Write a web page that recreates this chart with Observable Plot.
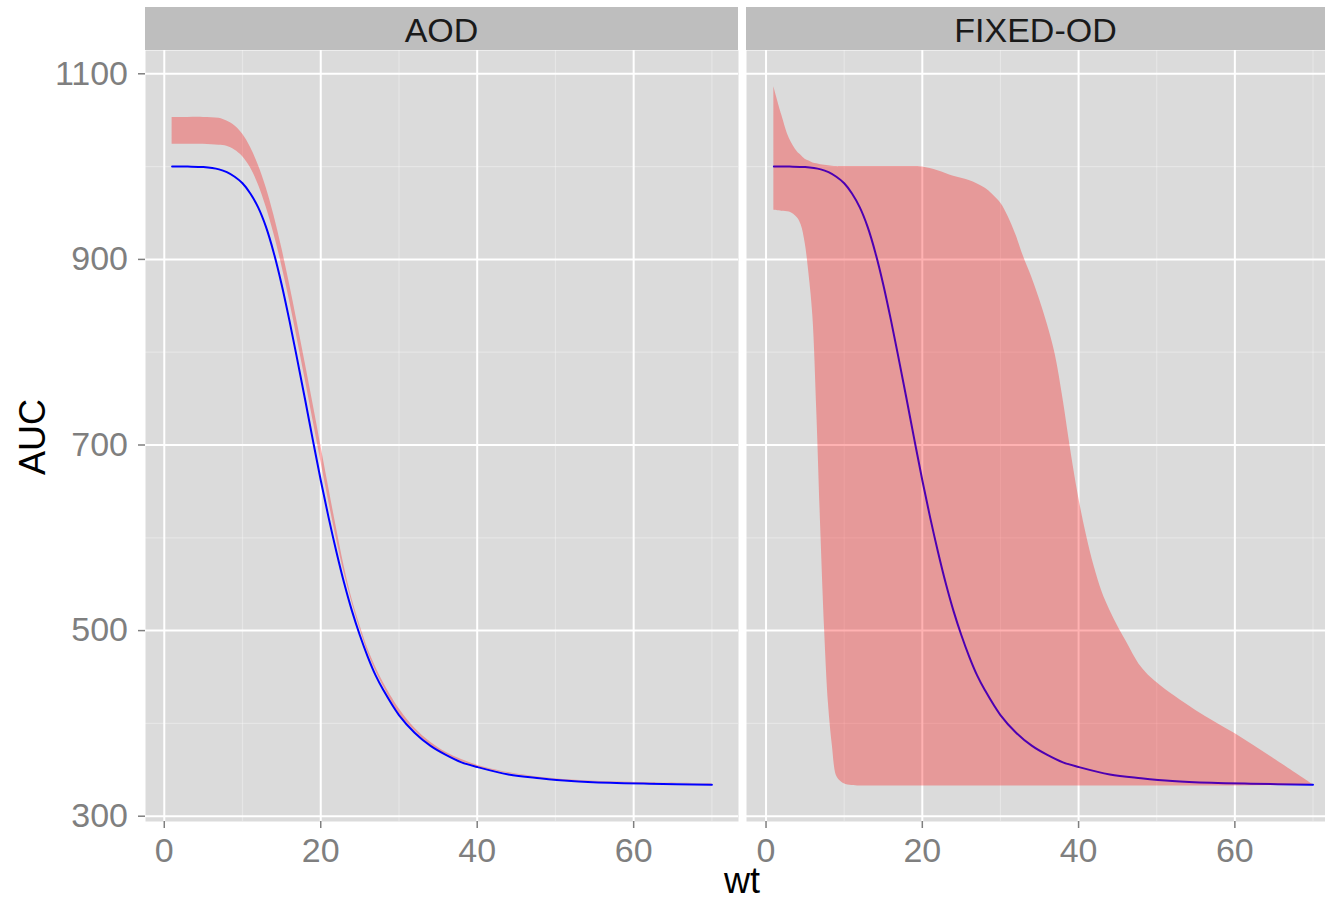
<!DOCTYPE html>
<html>
<head>
<meta charset="utf-8">
<script src="https://cdn.jsdelivr.net/npm/d3@7"></script>
<script src="https://cdn.jsdelivr.net/npm/@observablehq/plot@0.6"></script>
<style>
  body { margin: 0; background: #fff; }
  #wrap { position: relative; width: 1325px; height: 900px; overflow: hidden;
          font-family: "Liberation Sans", Arial, Helvetica, sans-serif; background: #fff; }
  .strip { position: absolute; top: 7px; height: 43px; background: #bebebe; color: #1a1a1a;
           font-size: 34px; line-height: 43px; text-align: center; white-space: nowrap; overflow: hidden; }
  .strip span { position: relative; top: 2px; }
  #ylab { position: absolute; left: 33px; top: 437px; font-size: 36px; line-height: 36px; color: #000;
          transform: translate(-50%, -50%) rotate(-90deg); white-space: nowrap; }
  #xlab { position: absolute; left: 742px; top: 863px; font-size: 36px; line-height: 36px; color: #000;
          transform: translateX(-50%); white-space: nowrap; }
</style>
</head>
<body>
<div id="wrap"></div>
<script>
// ---------- data ----------
const facets = ["AOD", "FIXED-OD"];
const xLabel = "wt";
const yLabel = "AUC";
const xTicks = [0, 20, 40, 60];
const xMinor = [10, 30, 50, 70];
const yTicks = [300, 500, 700, 900, 1100];
const yMinor = [400, 600, 800, 1000];

// typical (predicted) AUC curve, same in both panels
const predWt  = [1, 3, 5, 7, 8, 9, 10, 11, 12, 13, 14, 15, 16, 17, 18, 19, 20, 21, 22, 23, 24, 25, 26, 27, 28, 30, 32, 34, 36, 38, 40, 44, 48, 52, 57, 62, 70];
const predAuc = [1000, 1000, 999.5, 997, 994, 989, 982, 971, 956, 935, 907, 873, 834, 792, 749, 705, 662, 622, 585, 551, 521, 495, 472, 452, 436, 409, 390, 376, 366, 358, 353, 345, 341, 338, 336, 335, 334];

// AOD ribbon (same wt grid as prediction)
const aodLower = [1024, 1024, 1024, 1023, 1022, 1018, 1011, 999, 981, 957, 928, 894, 856, 814, 771, 727, 683, 640, 599, 562, 530, 502, 477, 457, 440, 411, 392, 377, 367, 359, 353.5, 346, 341.5, 338.5, 336.5, 335.5, 334.5];
const aodUpper = [1053, 1053, 1053, 1052, 1049, 1044, 1035, 1021, 1002, 978, 948, 913, 874, 832, 789, 745, 700, 655, 611, 569, 534, 506, 481, 461, 444, 416, 395, 380, 369, 361, 355, 347, 342, 339, 337, 336, 335];

// FIXED-OD ribbon
const fixedWt    = [1, 2, 3, 4, 4.5, 5, 5.5, 6, 6.5, 7, 7.5, 8, 8.5, 9, 9.5, 10, 11, 12, 14, 16, 18, 20, 22, 24, 26, 28, 29, 30, 31, 32, 33, 34, 35, 36, 37, 38, 39, 40, 41, 42, 43, 44, 45, 46, 48, 50, 55, 60, 65, 70];
const fixedUpper = [1086, 1056, 1030, 1016, 1012, 1008, 1006, 1004, 1003, 1002, 1001.5, 1001, 1000.5, 1000, 1000, 1000, 1000, 1000, 1000, 1000, 1000, 999.5, 995.5, 989.5, 985, 977, 970, 961, 946, 926, 902, 881, 857, 830, 798, 750, 694, 644, 603, 569, 542, 522, 505, 490, 461, 444, 414, 389, 362, 334];
const fixedLower = [953, 952, 951, 945, 937, 918, 884, 838, 735, 610, 500, 420, 375, 344, 338, 335, 333, 332.5, 332.5, 332.5, 332.5, 332.5, 332.5, 332.5, 332.5, 332.5, 332.5, 332.5, 332.5, 332.5, 332.5, 332.5, 332.5, 332.5, 332.5, 332.5, 332.5, 332.5, 332.5, 332.5, 332.5, 332.5, 332.5, 332.5, 332.5, 332.5, 332.5, 332.5, 333, 334];

// ---------- tables ----------
const pred = predWt.map((w, i) => ({wt: w, auc: predAuc[i]}));
const aod = predWt.map((w, i) => ({wt: w, lo: aodLower[i], hi: aodUpper[i]}));
const fixed = fixedWt.map((w, i) => ({wt: w, lo: fixedLower[i], hi: fixedUpper[i]}));

const FONT = '"Liberation Sans", Arial, Helvetica, sans-serif';
const yDomain = [294.3, 1125.1];

function panel({width, marginLeft, xDomain, band, showY}) {
  const marks = [
    Plot.frame({fill: "#dbdbdb", stroke: "none"}),
    Plot.gridY({ticks: yMinor, stroke: "white", strokeOpacity: 0.3, strokeWidth: 1.2}),
    Plot.gridX({ticks: xMinor, stroke: "white", strokeOpacity: 0.3, strokeWidth: 1.2}),
    Plot.gridY({ticks: yTicks, stroke: "white", strokeOpacity: 1, strokeWidth: 2}),
    Plot.gridX({ticks: xTicks, stroke: "white", strokeOpacity: 1, strokeWidth: 2}),
    Plot.line(pred, {x: "wt", y: "auc", stroke: "#0000ff", strokeWidth: 2, curve: "catmull-rom"}),
    Plot.areaY(band, {x: "wt", y1: "lo", y2: "hi", fill: "red", fillOpacity: 0.3, curve: "catmull-rom"}),
    Plot.axisX({ticks: xTicks, tickSize: 7, tickPadding: 9, label: null, fontSize: 34,
                stroke: "#7f7f7f", fill: "#7f7f7f", strokeWidth: 1.5, tickFormat: d => String(d)})
  ];
  if (showY) {
    marks.push(Plot.axisY({ticks: yTicks, tickSize: 7, tickPadding: 10.5, label: null, fontSize: 34,
                           stroke: "#7f7f7f", fill: "#7f7f7f", strokeWidth: 1.5, tickFormat: d => String(d)}));
  }
  return Plot.plot({
    width, height: 900,
    marginLeft, marginRight: 0, marginTop: 50, marginBottom: 79,
    x: {domain: xDomain, axis: null},
    y: {domain: yDomain, axis: null},
    style: {fontFamily: FONT, fontSize: "34px", color: "#7f7f7f", background: "transparent", overflow: "visible"},
    marks
  });
}

const wrap = document.getElementById("wrap");

const left = panel({width: 738, marginLeft: 145, xDomain: [-2.4, 73.4], band: aod, showY: true});
left.style.position = "absolute"; left.style.left = "0px"; left.style.top = "0px";
wrap.appendChild(left);

const right = panel({width: 579, marginLeft: 0, xDomain: [-2.5, 71.6], band: fixed, showY: false});
right.style.position = "absolute"; right.style.left = "746px"; right.style.top = "0px";
right.style.maxWidth = "none";
wrap.appendChild(right);

// facet strips
const stripPos = [[145, 593], [746, 579]];
facets.forEach((f, i) => {
  const s = document.createElement("div");
  s.className = "strip";
  s.style.left = stripPos[i][0] + "px";
  s.style.width = stripPos[i][1] + "px";
  const sp = document.createElement("span");
  sp.textContent = f;
  s.appendChild(sp);
  wrap.appendChild(s);
});

const yl = document.createElement("div"); yl.id = "ylab"; yl.textContent = yLabel; wrap.appendChild(yl);
const xl = document.createElement("div"); xl.id = "xlab"; xl.textContent = xLabel; wrap.appendChild(xl);
</script>
</body>
</html>
